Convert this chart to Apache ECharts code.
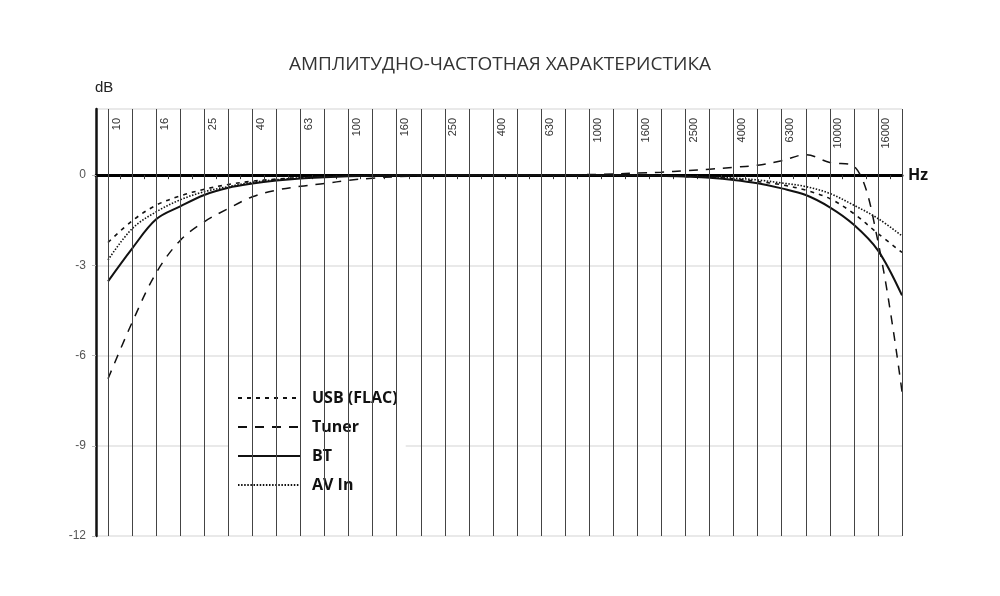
<!DOCTYPE html>
<html><head><meta charset="utf-8">
<script src="https://cdn.jsdelivr.net/npm/echarts@6/dist/echarts.min.js"></script>
<style>html,body{margin:0;padding:0;background:#fff}#c{width:1000px;height:596px}</style>
</head><body><div id="c"></div>
<script>
const frequencies = ['10','12.5','16','20','25','31.5','40','50','63','80','100','125','160','200','250','315','400','500','630','800','1000','1250','1600','2000','2500','3150','4000','5000','6300','8000','10000','12500','16000','20000'];
const tickLabels = ['10','16','25','40','63','100','160','250','400','630','1000','1600','2500','4000','6300','10000','16000'];
const usbFlac = [-2.24,-1.52,-1.0,-0.69,-0.47,-0.31,-0.2,-0.13,-0.08,-0.05,-0.03,-0.01,0,0,0,0,0,0,0,0,0,0,0,-0.02,-0.04,-0.07,-0.12,-0.21,-0.32,-0.5,-0.78,-1.28,-1.94,-2.57];
const tuner = [-6.77,-4.9,-3.25,-2.17,-1.55,-1.11,-0.72,-0.5,-0.37,-0.28,-0.17,-0.1,-0.05,-0.02,0,0,0,0,0,0.01,0.02,0.04,0.07,0.1,0.15,0.2,0.26,0.33,0.48,0.68,0.42,0.3,-2.2,-7.2];
const bt = [-3.53,-2.44,-1.47,-1.04,-0.66,-0.42,-0.28,-0.18,-0.11,-0.07,-0.04,-0.02,-0.01,0,0,0,0,0,0,0,0,0,-0.01,-0.02,-0.05,-0.09,-0.16,-0.27,-0.44,-0.66,-1.07,-1.65,-2.5,-4.0];
const avIn = [-2.82,-1.78,-1.22,-0.82,-0.55,-0.38,-0.24,-0.15,-0.09,-0.05,-0.03,-0.01,0,0,0,0,0,0,0,0,0,0,0,-0.01,-0.03,-0.06,-0.1,-0.16,-0.26,-0.38,-0.61,-1.0,-1.44,-2.02];
const seriesNames = ['USB (FLAC)','Tuner','BT','AV In'];

const pos = i => i + 0.5;
const toData = arr => arr.map((v, i) => [pos(i), v]);

const chart = echarts.init(document.getElementById('c'), null, {renderer: 'canvas'});
const lineColor = '#111';
function curve(name, arr, width, type) {
  return {
    name, type: 'line', data: toData(arr), symbol: 'none', smooth: 0.35, z: 3,
    lineStyle: {color: lineColor, width, type}, itemStyle: {color: lineColor},
    emphasis: {disabled: true}, silent: true
  };
}
const vlines = frequencies.map((f, i) => ({
  xAxis: pos(i),
  label: {show: tickLabels.indexOf(f) >= 0, formatter: f}
}));

chart.setOption({
  animation: false,
  backgroundColor: '#fff',
  title: {
    text: 'АМПЛИТУДНО-ЧАСТОТНАЯ ХАРАКТЕРИСТИКА',
    left: 'center', top: 50,
    textStyle: {fontFamily: 'Open Sans', fontSize: 19, fontWeight: 'normal', color: '#333'}
  },
  legend: {
    data: seriesNames, orient: 'vertical', left: 229, top: 380,
    padding: [10, 8, 7, 8], backgroundColor: '#fff',
    itemWidth: 63, itemHeight: 14, itemGap: 13, selectedMode: false,
    itemStyle: {opacity: 0, color: 'transparent', borderWidth: 0},
    textStyle: {fontFamily: 'Open Sans', fontWeight: 'bold', fontSize: 16, lineHeight: 16, color: '#111', padding: [0, 0, 0, 6]}
  },
  grid: {left: 96, right: 98, top: 109, bottom: 60, containLabel: false, outerBoundsMode: 'none'},
  xAxis: {
    type: 'value', min: 0, max: 33.5, interval: 1,
    axisLine: {show: true, onZero: true, lineStyle: {color: '#000', width: 3}},
    axisTick: {show: true, length: 4, lineStyle: {color: '#333', width: 1}},
    axisLabel: {show: false}, splitLine: {show: false},
    name: 'Hz', nameLocation: 'end', nameGap: 6,
    nameTextStyle: {fontFamily: 'Open Sans', fontWeight: 'bold', fontSize: 16, color: '#111', padding: [16, 0, 0, 0]}
  },
  yAxis: {
    type: 'value', min: -12, max: 2.2, interval: 3,
    axisLine: {show: true, onZero: false, lineStyle: {color: '#111', width: 2.5}},
    axisTick: {show: true, length: 4, lineStyle: {color: '#bbb', width: 1}},
    axisLabel: {showMaxLabel: false, fontFamily: 'Liberation Sans', fontSize: 12, color: '#555', margin: 10},
    splitLine: {show: true, lineStyle: {color: '#e2e2e2', width: 1.5}},
    name: 'dB', nameLocation: 'end', nameGap: 14,
    nameTextStyle: {fontFamily: 'Liberation Sans', fontSize: 15, color: '#222', align: 'left', padding: [0, 0, 0, -1]}
  },
  series: [
    {
      type: 'line', data: [], z: 2, silent: true, symbol: 'none',
      markLine: {
        silent: true, symbol: ['none', 'none'], animation: false,
        lineStyle: {color: '#444', width: 1, type: 'solid'},
        label: {position: 'insideEndBottom', distance: [9, 3], fontFamily: 'Liberation Sans', fontSize: 11, color: '#333'},
        emphasis: {disabled: true},
        data: vlines
      }
    },
    curve('USB (FLAC)', usbFlac, 1.6, [4, 5]),
    curve('Tuner', tuner, 1.5, [9, 8]),
    curve('BT', bt, 2, 'solid'),
    curve('AV In', avIn, 1.6, [1.5, 1.6])
  ]
});
</script>
</body></html>
